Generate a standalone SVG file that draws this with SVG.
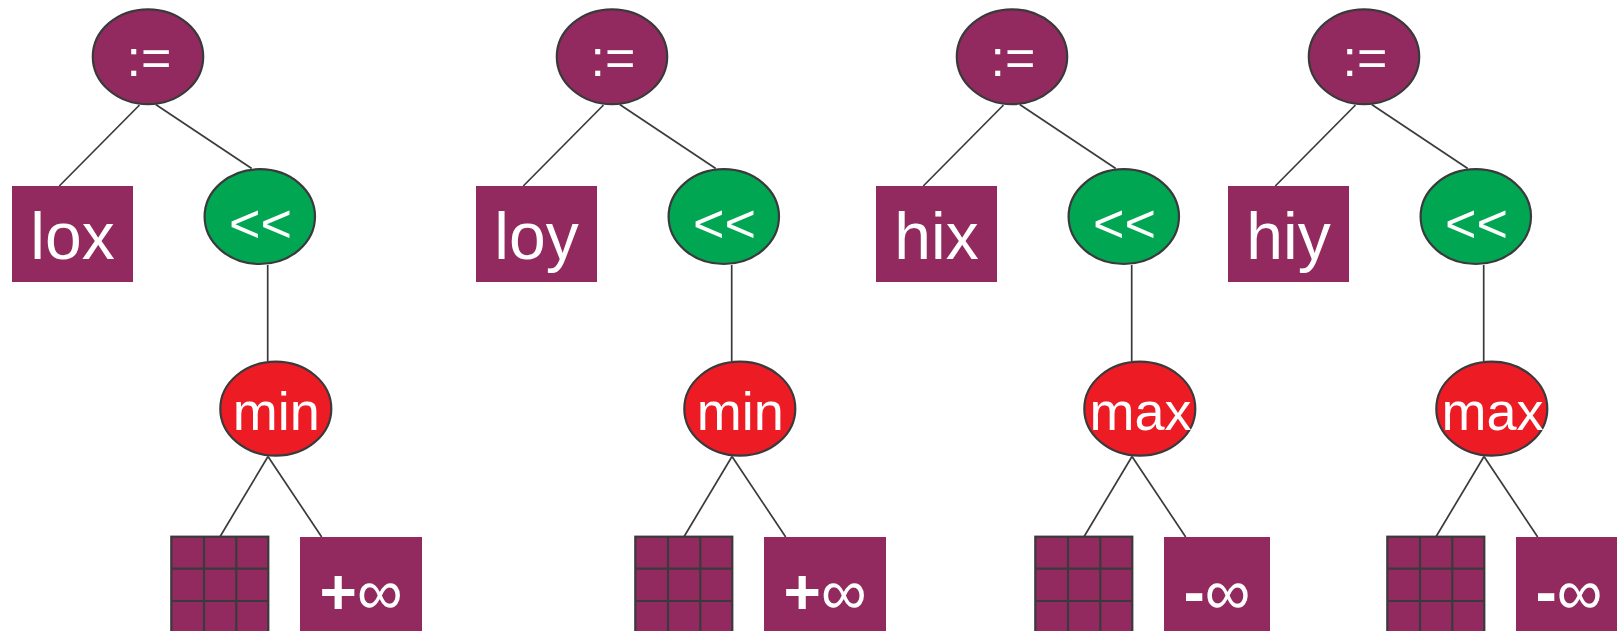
<svg xmlns="http://www.w3.org/2000/svg" width="1617" height="631" viewBox="0 0 1617 631">
<style>
.bg{fill:#ffffff}
.conn line{stroke:#3a3a3c;stroke-width:1.7;fill:none}
.pur{fill:#922a5f}
.ell{stroke:#3a3a3c;stroke-width:2.2}
.asg{fill:#922a5f}
.shf{fill:#00a651}
.op{fill:#ed1c24}
.grid{fill:#922a5f;stroke:#3a3a3c;stroke-width:2.2}
.gl{stroke:#3a3a3c;stroke-width:2.2;fill:none}
text{font-family:"Liberation Sans",Arial,sans-serif;fill:#ffffff;text-anchor:middle}
.t-asg{font-size:52px}
.t-shf{font-size:54px}
.t-op{font-size:54px}
.t-var{font-size:66px}
.t-inf{font-size:64px}
.sg{font-weight:bold}
</style>
<rect class="bg" x="0" y="0" width="1617" height="631"/>
<g id="connectors" class="conn">
<line x1="139.5" y1="105" x2="59.3" y2="186"/>
<line x1="155.7" y1="104.5" x2="251.7" y2="168.5"/>
<line x1="267.7" y1="265" x2="267.7" y2="361"/>
<line x1="268" y1="456.5" x2="220" y2="536.7"/>
<line x1="268" y1="456.5" x2="321.7" y2="537"/>
<line x1="603.5" y1="105" x2="523.3" y2="186"/>
<line x1="619.7" y1="104.5" x2="715.7" y2="168.5"/>
<line x1="731.7" y1="265" x2="731.7" y2="361"/>
<line x1="732" y1="456.5" x2="684" y2="536.7"/>
<line x1="732" y1="456.5" x2="785.7" y2="537"/>
<line x1="1003.5" y1="105" x2="923.3" y2="186"/>
<line x1="1019.7" y1="104.5" x2="1115.7" y2="168.5"/>
<line x1="1131.7" y1="265" x2="1131.7" y2="361"/>
<line x1="1132" y1="456.5" x2="1084" y2="536.7"/>
<line x1="1132" y1="456.5" x2="1185.7" y2="537"/>
<line x1="1355.5" y1="105" x2="1275.3" y2="186"/>
<line x1="1371.7" y1="104.5" x2="1467.7" y2="168.5"/>
<line x1="1483.7" y1="265" x2="1483.7" y2="361"/>
<line x1="1484" y1="456.5" x2="1436" y2="536.7"/>
<line x1="1484" y1="456.5" x2="1537.7" y2="537"/>
</g>
<!-- Tree 1 -->
<g id="assign1"><ellipse class="ell asg" cx="148" cy="56.7" rx="55.2" ry="47.4"/><text class="t-asg" x="149" y="76">:=</text></g>
<g id="lox"><rect class="pur" x="12" y="186" width="121" height="96"/><text class="t-var" x="72.5" y="258.5">lox</text></g>
<g id="shift1"><ellipse class="ell shf" cx="259.8" cy="216.6" rx="55.2" ry="47.4"/><text class="t-shf" x="260.5" y="242">&lt;&lt;</text></g>
<g id="min1"><ellipse class="ell op" cx="275.8" cy="408.7" rx="55.5" ry="47"/><text class="t-op" x="276.3" y="429.5">min</text></g>
<g id="grid1"><rect class="grid" x="171.3" y="536.7" width="97" height="110"/><path class="gl" d="M204 536.7V640M236.3 536.7V640M171.3 568.7H268.3M171.3 601H268.3"/></g>
<g id="posinf1"><rect class="pur" x="300" y="537" width="122" height="100"/><text class="t-inf" x="361" y="614"><tspan class="sg">+</tspan>∞</text></g>
<!-- Tree 2 -->
<g id="assign2"><ellipse class="ell asg" cx="612" cy="56.7" rx="55.2" ry="47.4"/><text class="t-asg" x="613" y="76">:=</text></g>
<g id="loy"><rect class="pur" x="476" y="186" width="121" height="96"/><text class="t-var" x="536.5" y="258.5">loy</text></g>
<g id="shift2"><ellipse class="ell shf" cx="723.8" cy="216.6" rx="55.2" ry="47.4"/><text class="t-shf" x="724.5" y="242">&lt;&lt;</text></g>
<g id="min2"><ellipse class="ell op" cx="739.8" cy="408.7" rx="55.5" ry="47"/><text class="t-op" x="740.3" y="429.5">min</text></g>
<g id="grid2"><rect class="grid" x="635.3" y="536.7" width="97" height="110"/><path class="gl" d="M668 536.7V640M700.3 536.7V640M635.3 568.7H732.3M635.3 601H732.3"/></g>
<g id="posinf2"><rect class="pur" x="764" y="537" width="122" height="100"/><text class="t-inf" x="825" y="614"><tspan class="sg">+</tspan>∞</text></g>
<!-- Tree 3 -->
<g id="assign3"><ellipse class="ell asg" cx="1012" cy="56.7" rx="55.2" ry="47.4"/><text class="t-asg" x="1013" y="76">:=</text></g>
<g id="hix"><rect class="pur" x="876" y="186" width="121" height="96"/><text class="t-var" x="936.5" y="258.5">hix</text></g>
<g id="shift3"><ellipse class="ell shf" cx="1123.8" cy="216.6" rx="55.2" ry="47.4"/><text class="t-shf" x="1124.5" y="242">&lt;&lt;</text></g>
<g id="max3"><ellipse class="ell op" cx="1139.8" cy="408.7" rx="55.5" ry="47"/><text class="t-op" x="1140.5" y="429.5">max</text></g>
<g id="grid3"><rect class="grid" x="1035.3" y="536.7" width="97" height="110"/><path class="gl" d="M1068 536.7V640M1100.3 536.7V640M1035.3 568.7H1132.3M1035.3 601H1132.3"/></g>
<g id="neginf3"><rect class="pur" x="1164" y="537" width="106" height="100"/><text class="t-inf" x="1217" y="614"><tspan class="sg">-</tspan>∞</text></g>
<!-- Tree 4 -->
<g id="assign4"><ellipse class="ell asg" cx="1364" cy="56.7" rx="55.2" ry="47.4"/><text class="t-asg" x="1365" y="76">:=</text></g>
<g id="hiy"><rect class="pur" x="1228" y="186" width="121" height="96"/><text class="t-var" x="1288.5" y="258.5">hiy</text></g>
<g id="shift4"><ellipse class="ell shf" cx="1475.8" cy="216.6" rx="55.2" ry="47.4"/><text class="t-shf" x="1476.5" y="242">&lt;&lt;</text></g>
<g id="max4"><ellipse class="ell op" cx="1491.8" cy="408.7" rx="55.5" ry="47"/><text class="t-op" x="1492.5" y="429.5">max</text></g>
<g id="grid4"><rect class="grid" x="1387.3" y="536.7" width="97" height="110"/><path class="gl" d="M1420 536.7V640M1452.3 536.7V640M1387.3 568.7H1484.3M1387.3 601H1484.3"/></g>
<g id="neginf4"><rect class="pur" x="1516" y="537" width="106" height="100"/><text class="t-inf" x="1569" y="614"><tspan class="sg">-</tspan>∞</text></g>
</svg>
